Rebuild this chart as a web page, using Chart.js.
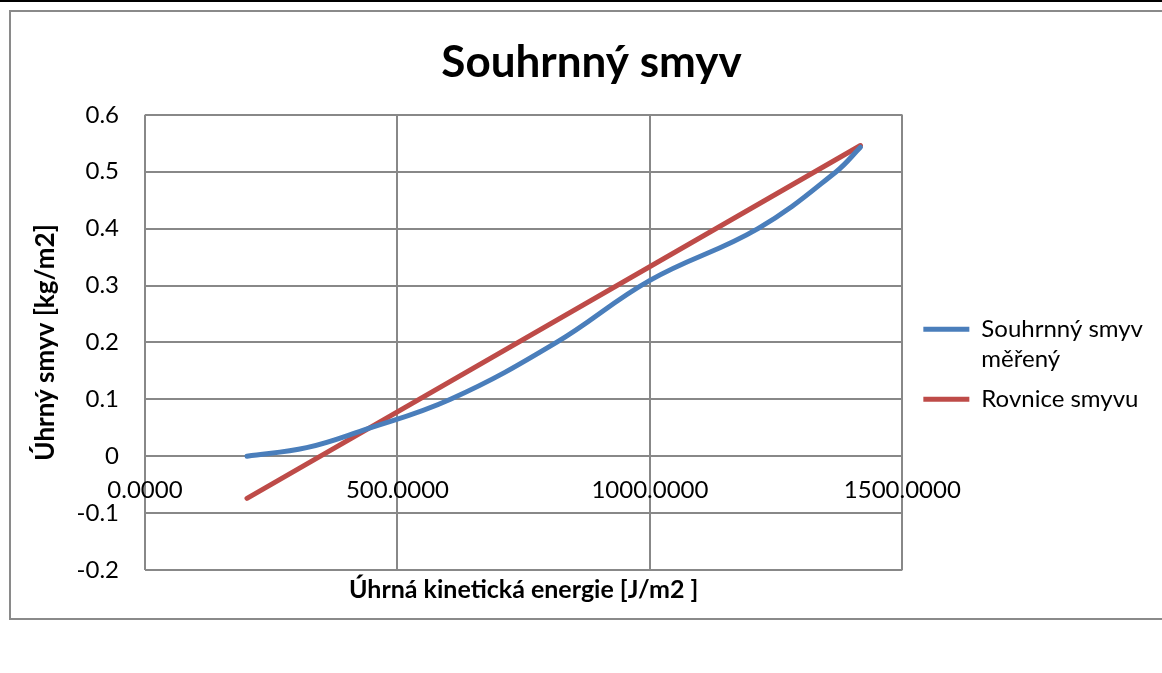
<!DOCTYPE html>
<html>
<head>
<meta charset="utf-8">
<script src="https://cdn.jsdelivr.net/npm/chart.js@4.4.1/dist/chart.umd.min.js"></script>
<style>
  html, body { margin: 0; padding: 0; background: #fff; overflow: hidden; }
  body { width: 1162px; height: 673px; position: relative; }
  #topline { position: absolute; left: 0; top: 0; width: 1162px; height: 2px; background: #000; }
  #frame { position: absolute; left: 9px; top: 10px; width: 1200px; height: 606px; border: 2px solid #8a8a8a; border-right: none; }
  #wrap { position: absolute; left: 9px; top: 0; width: 1162px; height: 620px; }
</style>
</head>
<body>
<div id="topline"></div>
<div id="frame"></div>
<div id="wrap"><canvas id="chart"></canvas></div>
<script>
const energy = [202, 320, 430, 605, 815, 1000, 1214, 1369, 1417];
const measuredLoss = [0, 0.015, 0.045, 0.1, 0.2, 0.309, 0.4, 0.5, 0.543];
// fitted equation, end points
const equationEnergy = [202, 1417];
const equationLoss = [-0.074, 0.546];

const seriesNames = [['Souhrnný smyv', 'měřený'], ['Rovnice smyvu']];
const xMin = 0, xMax = 1500, xStep = 500;
const yMin = -0.2, yMax = 0.6, yStep = 0.1;

const gridColor = '#888888';
Chart.defaults.font.family = 'Lato, "Open Sans", sans-serif';
Chart.defaults.color = '#000';

function toPoints(xs, ys) {
    return xs.map((x, i) => ({ x: x, y: ys[i] }));
}

const data = {
    datasets: [
        {
            label: seriesNames[0].join(' '),
            data: toPoints(energy, measuredLoss),
            borderColor: '#4A7EBB',
            backgroundColor: '#4A7EBB',
            borderWidth: 5,
            tension: 0.4,
        },
        {
            label: seriesNames[1].join(' '),
            data: toPoints(equationEnergy, equationLoss),
            borderColor: '#BE4B48',
            backgroundColor: '#BE4B48',
            borderWidth: 5,
        }
    ]
};

const config = {
    type: 'scatter',
    data: data,
    options: {
        responsive: true,
        maintainAspectRatio: false,
        animation: false,
        showLine: true,
        elements: {
            point: { radius: 0 },
            line: { borderCapStyle: 'round', borderJoinStyle: 'round' }
        },
        layout: {
            padding: { left: 21, right: 18, top: 36, bottom: 6 }
        },
        plugins: {
            title: {
                display: true,
                text: 'Souhrnný smyv',
                font: { size: 44, weight: 'bold' },
                color: '#000',
                padding: { top: 0, bottom: 26 }
            },
            legend: {
                position: 'right',
                align: 'center',
                maxWidth: 400,
                title: {
                    display: true,
                    text: '',
                    font: { size: 12 },
                    padding: { top: 0, bottom: 70 }
                },
                labels: {
                    usePointStyle: true,
                    pointStyle: 'line',
                    pointStyleWidth: 46,
                    padding: 10,
                    font: { size: 24, lineHeight: 1.25 },
                    color: '#000',
                    generateLabels: function(chart) {
                        const items = Chart.defaults.plugins.legend.labels.generateLabels(chart);
                        return items.map((item, i) => Object.assign(item, { text: seriesNames[i] }));
                    }
                }
            },
            tooltip: { enabled: false }
        },
        scales: {
            x: {
                type: 'linear',
                min: xMin,
                max: xMax,
                position: { y: 0 },
                ticks: {
                    stepSize: xStep,
                    autoSkip: false,
                    maxRotation: 0,
                    padding: 20,
                    font: { size: 24 },
                    color: '#000',
                    callback: (v) => Number(v).toFixed(4)
                },
                grid: { color: gridColor, lineWidth: 2, drawTicks: false },
                border: { display: false }
            },
            xTitle: {
                type: 'linear',
                axis: 'x',
                position: 'bottom',
                min: xMin,
                max: xMax,
                ticks: { display: false },
                grid: { display: false, drawTicks: false },
                border: { display: false },
                title: {
                    display: true,
                    text: 'Úhrná kinetická energie [J/m2 ]',
                    font: { size: 25, weight: 'bold' },
                    color: '#000',
                    padding: { top: 0, bottom: 9 }
                },
                afterFit: (scale) => { scale.height = 44; }
            },
            y: {
                type: 'linear',
                min: yMin,
                max: yMax,
                ticks: {
                    stepSize: yStep,
                    padding: 26,
                    font: { size: 24 },
                    color: '#000',
                    callback: (v) => String(Math.round(v * 10) / 10)
                },
                grid: { color: gridColor, lineWidth: 2, drawTicks: false },
                border: { display: false },
                title: {
                    display: true,
                    text: 'Úhrný smyv [kg/m2]',
                    font: { size: 26, weight: 'bold' },
                    color: '#000',
                    padding: 0
                },
                afterFit: (scale) => { scale.width = 115; }
            },
            // empty spacer between plot and legend
            ySpacer: {
                type: 'linear',
                axis: 'y',
                position: 'right',
                min: yMin,
                max: yMax,
                ticks: { display: false },
                grid: { display: false, drawTicks: false },
                border: { display: false },
                afterFit: (scale) => { scale.width = 11; }
            }
        }
    }
};

new Chart(document.getElementById('chart'), config);
</script>
</body>
</html>
